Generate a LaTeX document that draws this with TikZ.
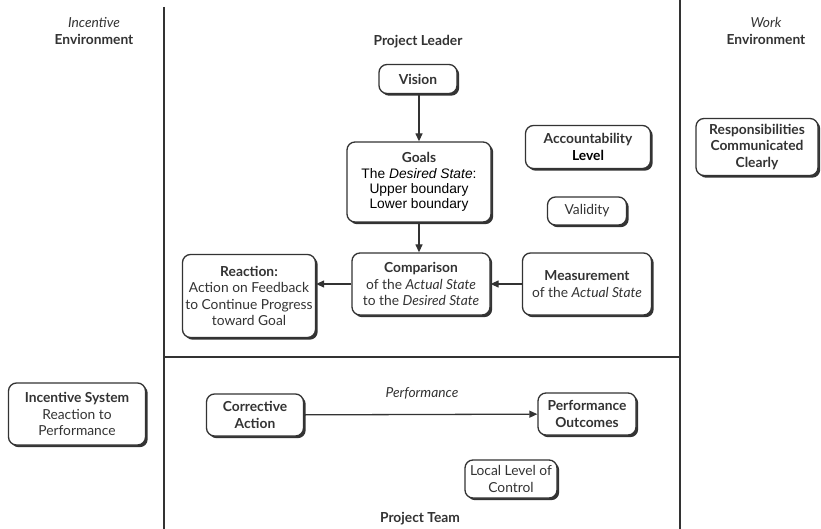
\documentclass[tikz,border=0pt]{standalone}
\usepackage{fontspec}
\setmainfont{Lato}
\newfontfamily\plainsans{Liberation Sans}
\usetikzlibrary{arrows.meta,shadows}
\definecolor{ink}{HTML}{333333}
\tikzset{
  box/.style={draw=ink, line width=1.3pt, rounded corners=8pt, fill=white,
    align=center, inner sep=2pt, text=ink,
    font=\fontsize{13.8}{16.2}\selectfont,
    drop shadow={shadow xshift=2.2pt, shadow yshift=-2.2pt, fill=ink, opacity=1}},
  lbl/.style={text=ink, align=center, font=\fontsize{13.8}{16.2}\selectfont},
  arr/.style={draw=ink, line width=1.3pt, -{Triangle[length=8pt,width=7pt]}},
  rule/.style={draw=ink, line width=1.8pt}
}
\begin{document}
\begin{tikzpicture}[x=1pt,y=-1pt]
\useasboundingbox (0,0) rectangle (821,529);
\fill[white] (0,0) rectangle (821,529);

% column and row rules
\coordinate (lt) at (164,7);
\coordinate (lb) at (164,529);
\coordinate (rt) at (680,0);
\coordinate (rb) at (680,529);
\coordinate (hl) at (164,357);
\coordinate (hr) at (680,357);
\draw[rule] (lt) -- (lb);
\draw[rule] (rt) -- (rb);
\draw[rule] (hl) -- (hr);

% headings
\node[lbl] (incenv) at (94,31) {\textit{Incentive}\\\textbf{Environment}};
\node[lbl] (workenv) at (766,31) {\textit{Work}\\\textbf{Environment}};
\node[lbl] (leader) at (418,42) {\textbf{Project Leader}};
\node[lbl] (team) at (420,519) {\textbf{Project Team}};
\node[lbl] (perflbl) at (422,393) {\textit{Performance}};

% upper region
\node[box, minimum width=78pt, minimum height=29pt] (vision) at (418,79) {\textbf{Vision}};
\node[box, minimum width=144pt, minimum height=80pt] (goals) at (419,182)
  {\textbf{Goals}\\[-1pt]{\plainsans\color{black}The \textit{Desired State}:}\\[-1pt]
   {\plainsans\color{black}Upper boundary}\\[-1pt]{\plainsans\color{black}Lower boundary}};
\node[box, minimum width=138pt, minimum height=62pt] (comp) at (421,284)
  {\textbf{Comparison}\\of the \textit{Actual State}\\to the \textit{Desired State}};
\node[box, minimum width=133pt, minimum height=83pt] (reac) at (249,296)
  {\textbf{Reaction:}\\Action on Feedback\\to Continue Progress\\toward Goal};
\node[box, minimum width=129pt, minimum height=62pt] (meas) at (587,284)
  {\textbf{Measurement}\\of the \textit{Actual State}};
\node[box, minimum width=125pt, minimum height=43pt] (acct) at (588,147)
  {\textbf{Accountability}\\{\color{black}\textbf{Level}}};
\node[box, minimum width=79pt, minimum height=28pt] (valid) at (587,211) {Validity};
\node[box, minimum width=122pt, minimum height=57pt] (resp) at (757,147)
  {\textbf{Responsibilities}\\\textbf{Communicated}\\\textbf{Clearly}};

% lower region
\node[box, minimum width=137pt, minimum height=62pt] (incsys) at (77,414)
  {\textbf{Incentive System}\\Reaction to\\Performance};
\node[box, minimum width=97pt, minimum height=42pt] (corr) at (255,415)
  {\textbf{Corrective}\\\textbf{Action}};
\node[box, minimum width=98pt, minimum height=42pt] (perf) at (587,414)
  {\textbf{Performance}\\\textbf{Outcomes}};
\node[box, minimum width=92pt, minimum height=38pt] (local) at (511,479)
  {Local Level of\\Control};

% connectors
\draw[arr] (vision.south -| goals.north) -- (goals.north);
\draw[arr] (goals.south) -- (goals.south |- comp.north);
\draw[arr] (meas) -- (comp);
\draw[arr] (comp.west) -- (comp.west -| reac.east);
\draw[arr] (corr) -- (perf);
\end{tikzpicture}
\end{document}
